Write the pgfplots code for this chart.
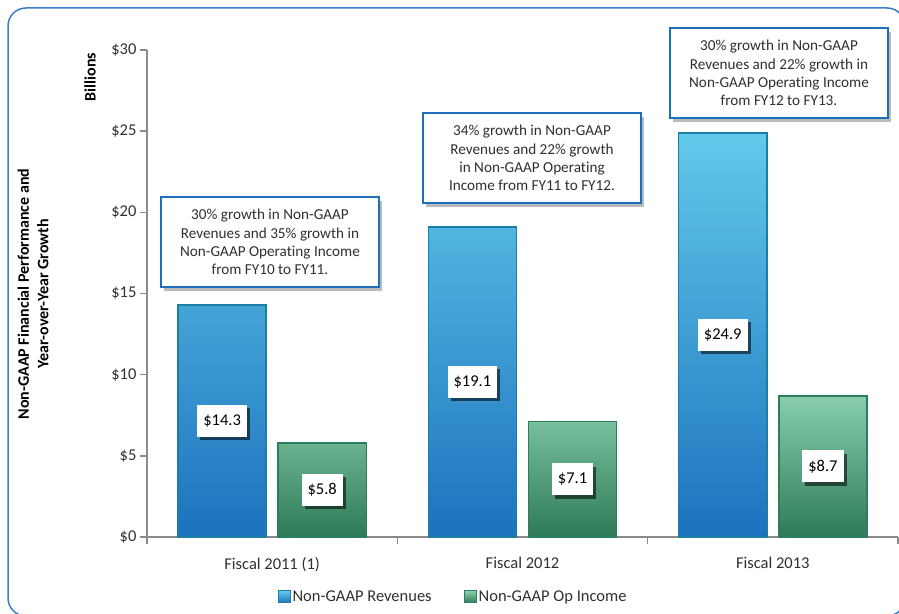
\documentclass[border=0pt]{standalone}
\usepackage{pgfplots}
\pgfplotsset{compat=1.18}
\usepackage{pgfplotstable}
\usepackage{fontspec}
\setmainfont{Carlito}[Ligatures=NoCommon]
\usetikzlibrary{shadows}
\definecolor{framecol}{HTML}{3C7DC8}
\definecolor{axisgray}{HTML}{8A8A8A}
\definecolor{textcol}{HTML}{303030}
\definecolor{revtop}{HTML}{63C9EA}
\definecolor{revbot}{HTML}{1C72BE}
\definecolor{revborder}{HTML}{1A7FA3}
\definecolor{optop}{HTML}{88CEAD}
\definecolor{opbot}{HTML}{2E7A57}
\definecolor{opborder}{HTML}{2B7E5E}
\definecolor{annotblue}{HTML}{1E6FBA}
\pgfplotstableread{
x rev op
0 14.3 5.8
1 19.1 7.1
2 24.9 8.7
}\data
\begin{document}
\begin{tikzpicture}[x=1pt,y=1pt]
\path[use as bounding box] (0,0) rectangle (899,613);
\begin{scope}
\clip (0,0) rectangle (899,613);
\draw[framecol, line width=1.5pt, rounded corners=18pt] (8,-3) rectangle (905,605);
\end{scope}
\begin{axis}[
  at={(147pt,76pt)}, anchor=south west, scale only axis,
  width=751pt, height=487pt,
  xmin=-0.5, xmax=2.5, ymin=0, ymax=30,
  axis lines=left,
  axis line style={-, draw=axisgray, line width=1.5pt},
  tick style={draw=axisgray, line width=1.5pt},
  tick align=outside, major tick length=7pt,
  xtick={-0.5,0.5,1.5,2.5}, x tick label as interval,
  xticklabels={Fiscal 2011 (1), Fiscal 2012, Fiscal 2013},
  xticklabel style={yshift=-10pt},
  ytick={0,5,...,30}, yticklabels={\$0,\$5,\$10,\$15,\$20,\$25,\$30},
  tick label style={font=\fontsize{16.5}{19}\selectfont, text=textcol},
  /pgf/number format/assume math mode=true,
  clip=false,
  legend style={at={(0.4075,-0.1232)}, anchor=center, draw=none, fill=none,
    legend columns=2, font=\fontsize{16.5}{19}\selectfont, text=textcol,
    /tikz/every even column/.append style={column sep=30pt},
    inner sep=0pt},
  legend cell align=left,
]
\addplot[ybar, bar width=0.352, bar shift=-0.2, draw=revborder, line width=1.5pt,
  top color=revtop, bottom color=revbot,
  legend image code/.code={\path[draw=revborder, line width=1pt, top color=revtop, bottom color=revbot] (0pt,-6pt) rectangle (12pt,6pt);}]
  table[x=x, y=rev]{\data};
\addplot[ybar, bar width=0.352, bar shift=0.2, draw=opborder, line width=1.5pt,
  top color=optop, bottom color=opbot,
  legend image code/.code={\path[draw=opborder, line width=1pt, top color=optop, bottom color=opbot] (0pt,-6pt) rectangle (12pt,6pt);}]
  table[x=x, y=op]{\data};
\legend{Non-GAAP Revenues, Non-GAAP Op Income}
\addplot[draw=none, mark=none, forget plot, point meta=explicit,
  nodes near coords={\$\pgfmathprintnumber[fixed,precision=1,fixed zerofill]{\pgfplotspointmeta}},
  every node near coord/.append style={anchor=center, fill=white, text=black,
    font=\fontsize{16.5}{19}\selectfont, inner xsep=6pt, minimum height=32pt,
    drop shadow={shadow xshift=3pt, shadow yshift=-3.5pt, fill=black, opacity=0.55}}]
  table[x expr=\thisrow{x}-0.2, y expr=\thisrow{rev}/2, meta=rev]{\data};
\addplot[draw=none, mark=none, forget plot, point meta=explicit,
  nodes near coords={\$\pgfmathprintnumber[fixed,precision=1,fixed zerofill]{\pgfplotspointmeta}},
  every node near coord/.append style={anchor=center, fill=white, text=black,
    font=\fontsize{16.5}{19}\selectfont, inner xsep=6pt, minimum height=32pt,
    drop shadow={shadow xshift=3pt, shadow yshift=-3.5pt, fill=black, opacity=0.55}}]
  table[x expr=\thisrow{x}+0.2, y expr=\thisrow{op}/2, meta=op]{\data};
\end{axis}
\tikzset{annot/.style={draw=annotblue, line width=2.5pt, fill=white, align=center,
  minimum width=218pt, minimum height=90pt, text=textcol, inner sep=0pt,
  font=\fontsize{15.2}{18.3}\selectfont,
  drop shadow={shadow xshift=3pt, shadow yshift=-4pt, fill=black!60, opacity=0.45}}}
\node[annot] at (270,371) {30\% growth in Non-GAAP\\Revenues and 35\% growth in\\Non-GAAP Operating Income\\from FY10 to FY11.};
\node[annot] at (532,455) {34\% growth in Non-GAAP\\Revenues and 22\% growth\\in Non-GAAP Operating\\Income from FY11 to FY12.};
\node[annot] at (779,540) {30\% growth in Non-GAAP\\Revenues and 22\% growth in\\Non-GAAP Operating Income\\from FY12 to FY13.};
\node[rotate=90, text=black, font=\bfseries\fontsize{16}{19}\selectfont] at (90,536) {Billions};
\node[rotate=90, align=center, text=black, font=\bfseries\fontsize{16}{19.5}\selectfont] at (33,319) {Non-GAAP Financial Performance and\\Year-over-Year Growth};
\end{tikzpicture}
\end{document}
